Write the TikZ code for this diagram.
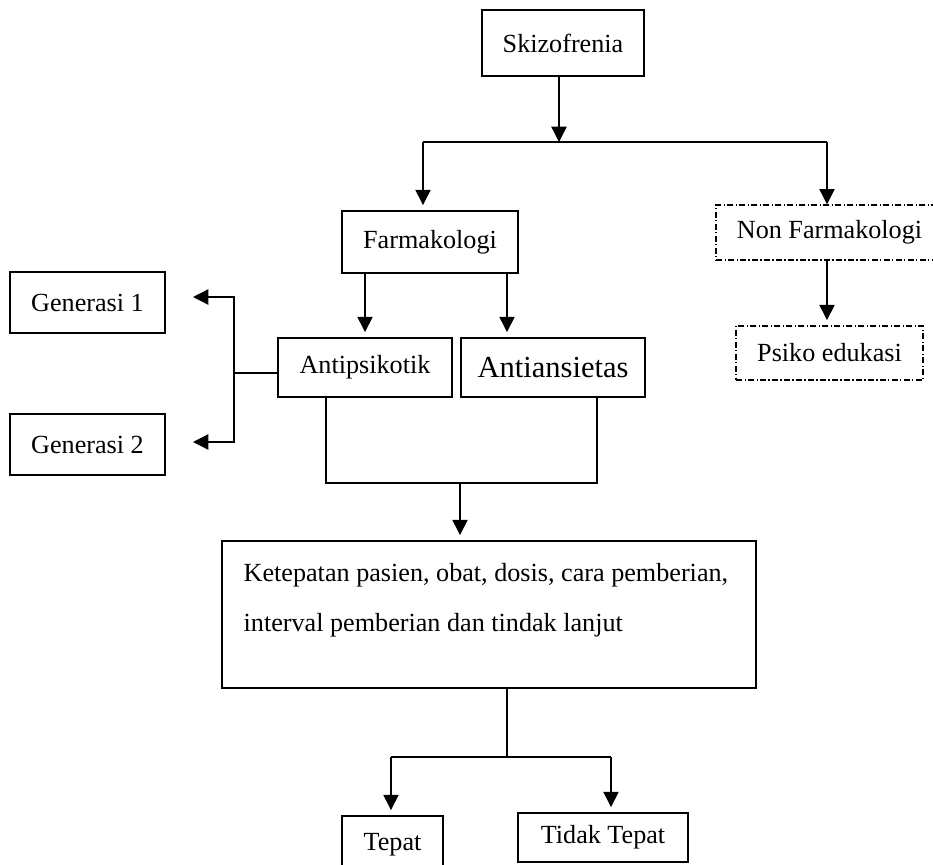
\documentclass[tikz,border=0pt]{standalone}
\usepackage{fontspec}
\setmainfont{Liberation Serif}
\usetikzlibrary{arrows.meta,calc}
\begin{document}
\begin{tikzpicture}[x=0.4587pt,y=-0.4587pt,
  line width=0.6pt,
  box/.style={draw, rectangle, inner sep=0pt, line width=0.65pt, font=\fontsize{12}{14}\selectfont},
  dbox/.style={box, dash pattern=on 2.8pt off 1.1pt on 0.5pt off 1.1pt},
  arr/.style={-{Triangle[length=7pt,width=7pt]}},
  gap/.style={shorten >=2.4pt}]
\useasboundingbox (0,0) rectangle (933,864);
\clip (0,0) rectangle (933,864);
% nodes
\node[box, minimum width=162*0.4587pt, minimum height=66*0.4587pt] (skz) at (563,43) {Skizofrenia};
\node[box, minimum width=176*0.4587pt, minimum height=62*0.4587pt] (farm) at (430,242) {Farmakologi};
\node[dbox, minimum width=227*0.4587pt, minimum height=55*0.4587pt] (nonf) at (829.5,232.5) {Non Farmakologi};
\node[dbox, minimum width=187*0.4587pt, minimum height=54*0.4587pt] (psiko) at (829.5,353) {Psiko edukasi};
\node[box, minimum width=155*0.4587pt, minimum height=61*0.4587pt] (gen1) at (87.5,302.5) {Generasi 1};
\node[box, minimum width=155*0.4587pt, minimum height=61*0.4587pt] (gen2) at (87.5,444.5) {Generasi 2};
\node[box, minimum width=174*0.4587pt, minimum height=59*0.4587pt] (anti) at (365,367.5) {Antipsikotik};
\node[box, minimum width=184*0.4587pt, minimum height=59*0.4587pt, font=\fontsize{14}{16}\selectfont] (ansi) at (553,367.5) {Antiansietas};
\node[box, minimum width=534*0.4587pt, minimum height=147*0.4587pt] (big) at (489,614.5) {};
\node[anchor=north west, inner sep=0pt, align=left, font=\fontsize{12}{23}\selectfont] (bigtxt) at (243,563)
  {Ketepatan pasien, obat, dosis, cara pemberian,\\interval pemberian dan tindak lanjut};
\node[box, minimum width=101*0.4587pt, minimum height=58*0.4587pt] (tepat) at (392.5,845) {Tepat};
\node[box, minimum width=170*0.4587pt, minimum height=49*0.4587pt] (tidak) at (603,837.5) {Tidak Tepat};
% helper coordinates
\coordinate (j1) at (559,142);
\coordinate (fa) at (423,142);
\coordinate (nf) at (827,142);
\coordinate (fx2) at (507,0);
\coordinate (g1t) at (193,297);
\coordinate (gv1) at (234,297);
\coordinate (gv2) at (234,442);
\coordinate (g2t) at (193,442);
\coordinate (gj) at (234,373);
\coordinate (c1) at (326,483);
\coordinate (c2) at (597,483);
\coordinate (cm) at (460,483);
\coordinate (b1) at (507,757);
\coordinate (t1) at (391,757);
\coordinate (t2) at (611,757);
% connectors
\draw[arr] (skz.south -| j1) -- (j1);
\draw (fa) -- (nf);
\draw[arr,gap] (fa) -- (fa |- farm.north);
\draw[arr] (nf) -- (nf |- nonf.north);
\draw[arr,gap] (nonf.south -| nf) -- (psiko.north -| nf);
\draw[arr,gap] (farm.south -| anti.north) -- (anti.north);
\draw[arr,gap] (farm.south -| fx2) -- (ansi.north -| fx2);
\draw (anti.west |- gj) -- (gj);
\draw[{Triangle[length=7pt,width=7pt]}-{Triangle[length=7pt,width=7pt]}] (g1t) -- (gv1) -- (gv2) -- (g2t);
\draw (anti.south -| c1) -- (c1) -- (c2) -- (ansi.south -| c2);
\draw[arr,gap] (cm) -- (big.north -| cm);
\draw (big.south -| b1) -- (b1);
\draw (t1) -- (t2);
\draw[arr,gap] (t1) -- (tepat.north -| t1);
\draw[arr,gap] (t2) -- (tidak.north -| t2);
\end{tikzpicture}
\end{document}
